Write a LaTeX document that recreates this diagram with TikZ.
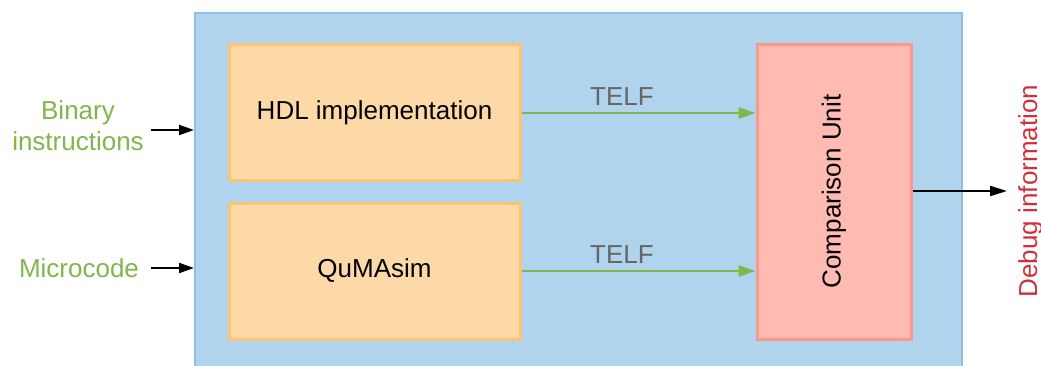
\documentclass[tikz,border=0pt]{standalone}
\usepackage{fontspec}
\setmainfont{Liberation Sans}
\usetikzlibrary{arrows.meta}
\definecolor{frameFill}{HTML}{B1D4EE}
\definecolor{frameLine}{HTML}{8FBEE6}
\definecolor{unitFill}{HTML}{FED9A8}
\definecolor{unitLine}{HTML}{FCC471}
\definecolor{cmpFill}{HTML}{FFBBB2}
\definecolor{cmpLine}{HTML}{FF968B}
\definecolor{flowGreen}{HTML}{82B54B}
\definecolor{telfGray}{HTML}{666666}
\definecolor{debugRed}{HTML}{D0303C}
\tikzset{
  x=1pt, y=1pt,
  txt/.style={font=\fontsize{26}{31}\selectfont, align=center},
  frame/.style={draw=frameLine, fill=frameFill, line width=2pt, inner sep=0pt},
  unitbox/.style={draw=unitLine, fill=unitFill, line width=3pt, inner sep=0pt,
    minimum width=291pt, minimum height=136pt, txt},
  cmpbox/.style={draw=cmpLine, fill=cmpFill, line width=3pt, inner sep=0pt,
    minimum width=154pt, minimum height=295pt},
  flow/.style={draw=flowGreen, line width=2.5pt,
    -{Triangle[length=17pt, width=11pt]}},
  inarrow/.style={draw=black, line width=2pt,
    -{Triangle[length=15pt, width=10pt]}},
  outarrow/.style={draw=black, line width=2pt,
    -{Triangle[length=17pt, width=10pt]}},
  telf/.style={txt, text=telfGray, inner sep=0pt},
}
\begin{document}
\begin{tikzpicture}
\useasboundingbox (0,0) rectangle (1041,-365);

% outer frame (its lower edge runs past the page)
\node[frame, minimum width=767pt, minimum height=356pt] (frame) at (578.5,-191) {};

% processing units
\node[unitbox] (hdl) at (374.5,-112.5) {HDL implementation};
\node[unitbox] (sim) at (374.5,-271) {QuMAsim};
\node[cmpbox] (cmp) at (834,-191.5) {};
\node[txt, rotate=90, inner sep=0pt] (cmptext) at (cmp.center) {Comparison Unit};

% inputs
\node[txt, text=flowGreen, inner sep=0pt] (bin) at (78,-125.5) {Binary\\instructions};
\node[txt, text=flowGreen, inner sep=0pt] (mc) at (79,-268) {Microcode};
\coordinate (in1) at (frame.west |- 0,-130);
\coordinate (in2) at (frame.west |- 0,-268);
\coordinate (src1) at (151,-130);
\coordinate (src2) at (151,-268);
\draw[inarrow] (src1) -- (in1);
\draw[inarrow] (src2) -- (in2);

% TELF streams
\draw[flow] (hdl.east |- 0,-113) -- (cmp.west |- 0,-113);
\draw[flow] (sim.east) -- (cmp.west |- sim.east);
\node[telf] (telf1) at (622,-97) {TELF};
\node[telf] (telf2) at (622,-255) {TELF};

% output
\node[txt, text=debugRed, rotate=90, anchor=north, inner xsep=0pt, inner ysep=11pt]
  (debug) at (1007,-191) {Debug information};
\draw[outarrow] (cmp.east |- 0,-191) -- (debug.north);
\end{tikzpicture}
\end{document}
